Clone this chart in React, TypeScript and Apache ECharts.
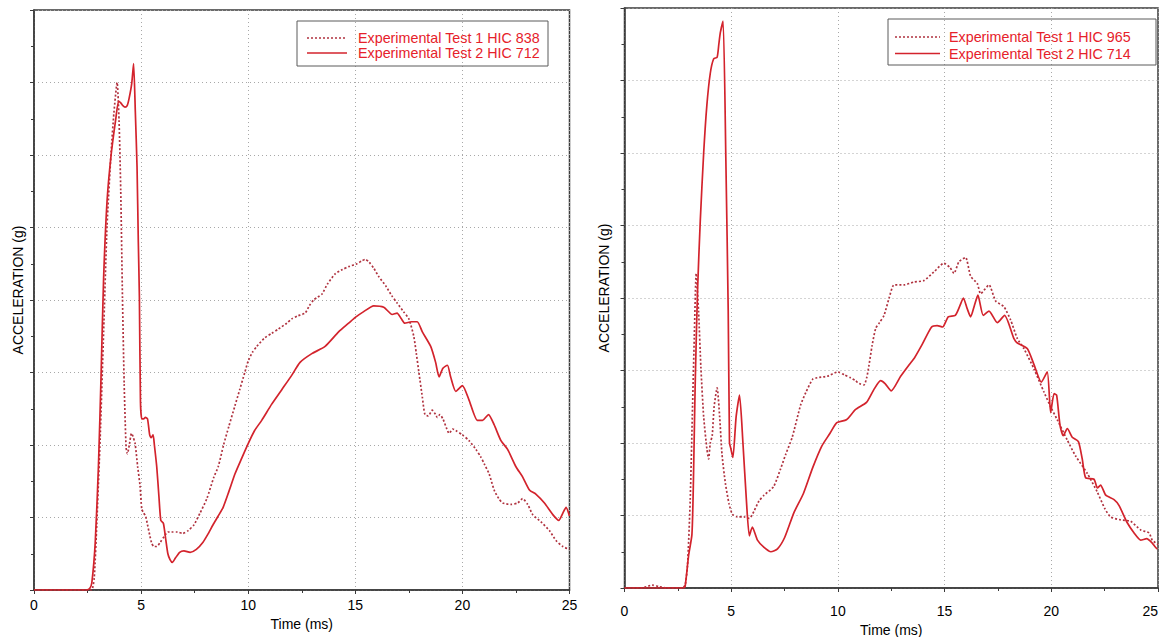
import React, { useEffect, useRef } from "react";
import * as echarts from "echarts";

// x axis (ms) ticks: 0..25 every 5; y axis (g): 0..400 every 50 (labels hidden in the original)
const xMin = 0;
const xMax = 25;
const xStep = 5;
const yMin = 0;
const yMax = 400;
const yStep = 50;

const leftLegend = ["Experimental Test 1 HIC 838", "Experimental Test 2 HIC 712"];
const rightLegend = ["Experimental Test 1 HIC 965", "Experimental Test 2 HIC 714"];

// Left panel, Experimental Test 1 (dashed)  [time ms, acceleration g]
const leftTest1: [number, number][] = [
  [0, 0], [1, 0], [2, 0], [2.6, 0], [2.7, 0], [2.81, 8], [2.93, 45], [3.09, 105], [3.25, 178], [3.41, 251],
  [3.6, 302], [3.73, 329], [3.88, 350], [3.97, 324], [4.05, 275], [4.13, 202], [4.21, 142], [4.3, 98],
  [4.36, 94], [4.45, 100], [4.55, 108], [4.62, 106], [4.72, 101], [4.84, 85], [4.95, 72], [5.03, 56],
  [5.12, 53], [5.21, 51], [5.3, 45], [5.4, 38], [5.5, 32], [5.6, 30], [5.73, 30], [5.9, 33], [6.08, 37],
  [6.25, 40], [6.42, 40], [6.7, 40], [6.94, 39], [7.2, 41], [7.47, 45], [7.75, 53], [8.07, 63], [8.4, 78],
  [8.6, 85], [8.85, 100], [9.1, 113], [9.38, 127], [9.6, 138], [9.84, 150], [10.0, 158], [10.2, 164],
  [10.4, 168], [10.78, 174], [11.1, 177], [11.41, 180], [11.8, 184], [12.03, 187], [12.3, 189], [12.66, 191],
  [12.85, 196], [13.05, 200], [13.25, 202], [13.44, 204], [13.7, 211], [14.06, 218], [14.4, 221], [14.69, 223],
  [15.08, 225], [15.3, 227], [15.47, 228], [15.65, 226], [15.86, 222], [16.1, 216], [16.41, 210], [16.7, 203],
  [16.95, 198], [17.25, 192], [17.5, 187], [17.73, 175], [17.85, 163], [17.97, 150], [18.13, 133], [18.25, 121],
  [18.41, 120], [18.59, 124], [18.75, 121], [18.83, 119], [18.95, 121], [19.09, 118], [19.25, 112], [19.38, 108],
  [19.55, 111], [19.69, 110], [20.0, 107], [20.31, 103], [20.63, 97], [20.85, 92], [21.02, 87], [21.25, 80],
  [21.48, 69], [21.7, 63], [21.88, 60], [22.27, 59], [22.58, 60], [22.81, 63], [23.05, 59], [23.28, 52],
  [23.67, 47], [24.06, 41], [24.38, 34], [24.69, 30], [25, 28],
];

// Left panel, Experimental Test 2 (solid)
const leftTest2: [number, number][] = [
  [0, 0], [2.45, 0], [2.6, 1], [2.7, 5], [2.86, 33], [3.01, 86], [3.13, 147], [3.25, 215], [3.41, 268],
  [3.6, 300], [3.81, 324], [3.95, 337], [4.05, 336], [4.15, 334], [4.25, 333], [4.35, 334], [4.44, 339],
  [4.56, 349], [4.65, 363], [4.73, 330], [4.81, 292], [4.87, 240], [4.92, 202], [4.97, 130], [5.03, 118],
  [5.12, 118], [5.2, 119], [5.3, 118], [5.4, 107], [5.47, 105], [5.56, 107], [5.62, 100], [5.73, 85],
  [5.83, 65], [5.92, 48], [6.04, 46], [6.15, 35], [6.25, 25], [6.35, 21], [6.46, 19], [6.6, 22], [6.8, 26],
  [7.0, 27], [7.29, 26], [7.58, 28], [7.89, 33], [8.1, 38], [8.36, 45], [8.6, 51], [8.83, 57], [9.1, 68],
  [9.38, 80], [9.7, 91], [10.0, 101], [10.3, 110], [10.63, 117], [11.09, 128], [11.56, 138], [12.03, 148],
  [12.42, 157], [12.97, 163], [13.59, 168], [14.22, 178], [14.69, 184], [15.0, 188], [15.39, 192], [15.86, 196],
  [16.33, 195], [16.72, 190], [16.95, 191], [17.15, 187], [17.31, 184], [17.63, 185], [17.89, 185], [18.13, 178],
  [18.52, 168], [18.75, 157], [18.91, 147], [19.09, 153], [19.3, 155], [19.45, 147], [19.69, 137], [20.0, 141],
  [20.31, 131], [20.7, 117], [20.94, 117], [21.22, 121], [21.48, 114], [21.8, 103], [22.11, 97], [22.5, 85],
  [22.81, 78], [23.13, 69], [23.44, 66], [23.83, 60], [24.22, 52], [24.5, 48], [24.69, 53], [24.84, 57], [25, 51],
];

// Right panel, Experimental Test 1 (dashed)
const rightTest1: [number, number][] = [
  [0, 0], [0.8, 0], [1.3, 2], [1.6, 1], [2.0, 0], [2.7, 0], [2.84, 2], [2.95, 15], [3.08, 61], [3.19, 126],
  [3.27, 173], [3.36, 217], [3.47, 191], [3.58, 152], [3.71, 118], [3.86, 96], [3.94, 89], [4.02, 100],
  [4.11, 105], [4.2, 125], [4.34, 138], [4.46, 118], [4.57, 92], [4.73, 72], [4.9, 58], [5.05, 51], [5.28, 49],
  [5.6, 49], [5.85, 48], [6.07, 53], [6.3, 60], [6.54, 64], [6.99, 70], [7.31, 82], [7.55, 92], [7.86, 104],
  [8.25, 126], [8.5, 135], [8.82, 144], [9.03, 145], [9.5, 146], [10.0, 149], [10.3, 147], [10.59, 145],
  [10.82, 143], [11.0, 141], [11.22, 140], [11.35, 145], [11.45, 153], [11.6, 167], [11.77, 179], [11.95, 183],
  [12.16, 188], [12.4, 200], [12.63, 209], [13.09, 209], [13.56, 211], [14.03, 212], [14.5, 218], [14.97, 224],
  [15.25, 221], [15.44, 217], [15.67, 225], [15.98, 228], [16.22, 215], [16.53, 210], [16.69, 203], [17.08, 209],
  [17.39, 198], [17.78, 194], [18.09, 185], [18.41, 172], [18.72, 165], [19.19, 151], [19.66, 135], [19.97, 125],
  [20.28, 116], [20.75, 102], [21.14, 91], [21.69, 79], [22.16, 66], [22.5, 55], [22.78, 49], [23.25, 47],
  [23.72, 46], [24.19, 40], [24.58, 38], [24.73, 33], [25, 30],
];

// Right panel, Experimental Test 2 (solid)
const rightTest2: [number, number][] = [
  [0, 0], [2.75, 0], [2.84, 1], [3.0, 22], [3.16, 37], [3.23, 74], [3.31, 139], [3.42, 204], [3.55, 253],
  [3.71, 300], [3.86, 333], [4.02, 355], [4.18, 365], [4.34, 366], [4.42, 375], [4.49, 383], [4.62, 391],
  [4.75, 295], [4.86, 191], [4.92, 100], [4.97, 97], [5.08, 90], [5.23, 118], [5.39, 133], [5.55, 100],
  [5.71, 61], [5.85, 36], [5.99, 42], [6.23, 33], [6.54, 28], [6.86, 25], [7.17, 27], [7.51, 35], [7.94, 52],
  [8.38, 65], [8.82, 83], [9.25, 98], [9.6, 106], [9.95, 114], [10.4, 116], [10.82, 123], [11.34, 128],
  [11.69, 137], [12.0, 143], [12.21, 141], [12.5, 136], [12.94, 146], [13.34, 154], [13.6, 159], [13.95, 168],
  [14.39, 180], [14.65, 181], [14.91, 180], [15.17, 187], [15.5, 188], [15.7, 194], [15.88, 200], [16.05, 193],
  [16.22, 187], [16.4, 195], [16.56, 202], [16.81, 188], [17.08, 191], [17.47, 183], [17.81, 188], [18.25, 172],
  [18.41, 169], [18.88, 165], [19.19, 154], [19.53, 142], [19.81, 149], [19.97, 121], [20.13, 134], [20.25, 133],
  [20.41, 112], [20.56, 105], [20.75, 110], [20.98, 104], [21.27, 101], [21.45, 89], [21.61, 76], [22.0, 75],
  [22.16, 69], [22.31, 71], [22.55, 64], [22.94, 61], [23.17, 57], [23.56, 45], [23.88, 38], [24.19, 33],
  [24.47, 34], [24.73, 31], [24.97, 27], [25, 27],
];

const FONT = 'Arial, "Liberation Sans", Helvetica, sans-serif';
const SOLID = "#d3232c";
const DASHED = "#b0323f";
const TEXT_RED = "#e6212a";
const AXIS = "#3a3a3a";

function xAxisCfg(gridIndex: number, labelMargin: number, nameGap: number, alignMax: boolean) {
  return {
    type: "value",
    gridIndex,
    min: xMin,
    max: xMax,
    interval: xStep,
    name: "Time (ms)",
    nameLocation: "middle",
    nameGap,
    nameTextStyle: { color: "#000", fontSize: 14, fontFamily: FONT },
    axisLine: { show: true, lineStyle: { color: AXIS, width: 1.5 } },
    axisTick: { show: true, length: 4, lineStyle: { color: AXIS } },
    minorTick: { show: true, splitNumber: 2, length: 3, lineStyle: { color: AXIS } },
    axisLabel: {
      color: "#000",
      fontSize: 14,
      fontFamily: FONT,
      margin: labelMargin,
      ...(alignMax ? { alignMaxLabel: "right" } : {}),
    },
    splitLine: { show: true, lineStyle: { color: "#a8a8a8", width: 1, type: [1, 3] } },
  };
}

function yAxisCfg(gridIndex: number, nameGap: number) {
  return {
    type: "value",
    gridIndex,
    min: yMin,
    max: yMax,
    interval: yStep,
    name: "ACCELERATION (g)",
    nameLocation: "middle",
    nameGap,
    nameRotate: 90,
    nameTextStyle: { color: "#000", fontSize: 14, fontFamily: FONT, padding: [0, 0, 0, 20] },
    axisLine: { show: true, lineStyle: { color: AXIS, width: 1.5 } },
    axisTick: { show: true, length: 4, lineStyle: { color: AXIS } },
    minorTick: { show: true, splitNumber: 2, length: 3, lineStyle: { color: AXIS } },
    axisLabel: { show: false },
    splitLine: { show: true, lineStyle: { color: "#a8a8a8", width: 1, type: [1, 3] } },
  };
}

function lineSeries(data: [number, number][], idx: number, dashed: boolean, name: string) {
  return {
    type: "line",
    name,
    xAxisIndex: idx,
    yAxisIndex: idx,
    data,
    symbol: "none",
    smooth: 0.2,
    clip: true,
    lineStyle: dashed
      ? { color: DASHED, width: 1.7, type: [2, 2] }
      : { color: SOLID, width: 1.7, type: "solid" },
    z: dashed ? 3 : 4,
  };
}

function legendBox(x: number, y: number, w: number, h: number, sx: number, sw: number, tx: number, r1: number, r2: number, labels: string[]) {
  return [
    { type: "rect", shape: { x, y, width: w, height: h }, style: { fill: "none", stroke: "#5a5a5a", lineWidth: 1 }, z: 100 },
    { type: "line", shape: { x1: sx, y1: r1, x2: sx + sw, y2: r1 }, style: { stroke: DASHED, lineWidth: 1.7, lineDash: [2, 2] }, z: 101 },
    { type: "line", shape: { x1: sx, y1: r2, x2: sx + sw, y2: r2 }, style: { stroke: SOLID, lineWidth: 1.7 }, z: 101 },
    { type: "text", x: tx, y: r1, style: { text: labels[0], fill: TEXT_RED, fontSize: 14.3, fontFamily: FONT, verticalAlign: "middle" }, z: 101 },
    { type: "text", x: tx, y: r2, style: { text: labels[1], fill: TEXT_RED, fontSize: 14.3, fontFamily: FONT, verticalAlign: "middle" }, z: 101 },
  ];
}

export default function App() {
  const ref = useRef<HTMLDivElement>(null);
  useEffect(() => {
    if (!ref.current) return;
    const chart = echarts.init(ref.current, null, { renderer: "svg" });
    chart.setOption({
      animation: false,
      backgroundColor: "#ffffff",
      grid: [
        { left: 34, top: 10, width: 535.5, height: 580, show: true, borderColor: AXIS, borderWidth: 1.5, backgroundColor: "transparent", containLabel: false, outerBoundsMode: "none" },
        { left: 624.5, top: 8, width: 533.5, height: 580, show: true, borderColor: AXIS, borderWidth: 1.5, backgroundColor: "transparent", containLabel: false, outerBoundsMode: "none" },
      ],
      xAxis: [xAxisCfg(0, 8, 25, false), xAxisCfg(1, 16, 33, true)],
      yAxis: [yAxisCfg(0, 9), yAxisCfg(1, 14)],
      series: [
        lineSeries(leftTest1, 0, true, leftLegend[0]),
        lineSeries(leftTest2, 0, false, leftLegend[1]),
        lineSeries(rightTest1, 1, true, rightLegend[0]),
        lineSeries(rightTest2, 1, false, rightLegend[1]),
      ],
      graphic: [
        ...legendBox(297, 21, 251, 45, 307, 40, 358, 38, 53, leftLegend),
        ...legendBox(888, 19, 268, 46, 895, 45, 949, 37, 53.5, rightLegend),
      ],
    });
    return () => chart.dispose();
  }, []);
  return (
    <div
      ref={ref}
      style={{ position: "fixed", left: 0, top: 0, width: 1162, height: 637, background: "#fff" }}
    />
  );
}
